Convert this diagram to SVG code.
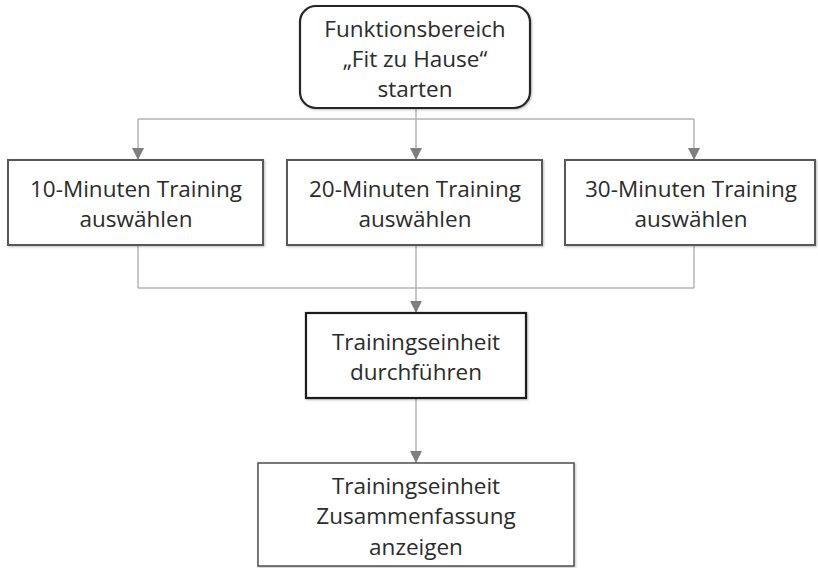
<svg xmlns="http://www.w3.org/2000/svg" width="818" height="568" viewBox="0 0 818 568">
<defs>
<marker id="arr" viewBox="0 0 12 12" refX="12" refY="6" markerWidth="12" markerHeight="12" markerUnits="userSpaceOnUse" orient="auto">
<path d="M0,0 L12,6 L0,12 Z" fill="#7f7f7f"/>
</marker>
<filter id="sh" x="-5%" y="-5%" width="110%" height="115%">
<feDropShadow dx="1" dy="1" stdDeviation="1" flood-color="#000" flood-opacity="0.25"/>
</filter>
</defs>
<style>
.t{font-family:"Open Sans","Noto Sans",sans-serif;font-size:22.5px;fill:#2b2b2b;text-anchor:middle}
.c{fill:none;stroke:#b3b3b3;stroke-width:1.5}
.a{fill:none;stroke:#b3b3b3;stroke-width:1.5;marker-end:url(#arr)}
.box{fill:#fff;stroke:#595959;stroke-width:2}
</style>
<rect width="818" height="568" fill="#fff"/>
<g id="connectors">
<line class="c" x1="416" y1="108" x2="416" y2="119"/>
<line class="c" x1="138" y1="119" x2="694" y2="119"/>
<line class="a" x1="138" y1="119" x2="138" y2="160"/>
<line class="a" x1="416" y1="119" x2="416" y2="160"/>
<line class="a" x1="694" y1="119" x2="694" y2="160"/>
<line class="c" x1="138" y1="245" x2="138" y2="288"/>
<line class="c" x1="694" y1="245" x2="694" y2="288"/>
<line class="c" x1="138" y1="288" x2="694" y2="288"/>
<line class="a" x1="416" y1="245" x2="416" y2="313"/>
<line class="a" x1="416" y1="398" x2="416" y2="463"/>
</g>
<g id="start">
<rect x="300" y="6" width="230" height="102" rx="16" fill="#fff" stroke="#262626" stroke-width="2.2" filter="url(#sh)"/>
<text class="t" x="415" y="37">Funktionsbereich</text>
<text class="t" x="415" y="67">„Fit zu Hause“</text>
<text class="t" x="415" y="97">starten</text>
</g>
<g id="t10">
<rect class="box" x="8" y="160" width="255" height="85" filter="url(#sh)"/>
<text class="t" x="136" y="197">10-Minuten Training</text>
<text class="t" x="136" y="227">auswählen</text>
</g>
<g id="t20">
<rect class="box" x="287" y="160" width="255" height="85" filter="url(#sh)"/>
<text class="t" x="415" y="197">20-Minuten Training</text>
<text class="t" x="415" y="227">auswählen</text>
</g>
<g id="t30">
<rect class="box" x="565" y="160" width="250" height="85" filter="url(#sh)"/>
<text class="t" x="691" y="197">30-Minuten Training</text>
<text class="t" x="691" y="227">auswählen</text>
</g>
<g id="durch">
<rect x="306" y="313" width="220" height="85" fill="#fff" stroke="#1a1a1a" stroke-width="2.2" filter="url(#sh)"/>
<text class="t" x="416" y="350">Trainingseinheit</text>
<text class="t" x="416" y="380">durchführen</text>
</g>
<g id="summary">
<rect x="258" y="463" width="316" height="103" fill="#fff" stroke="#4d4d4d" stroke-width="1.5" filter="url(#sh)"/>
<text class="t" x="416" y="494">Trainingseinheit</text>
<text class="t" x="416" y="524">Zusammenfassung</text>
<text class="t" x="416" y="555">anzeigen</text>
</g>
</svg>
